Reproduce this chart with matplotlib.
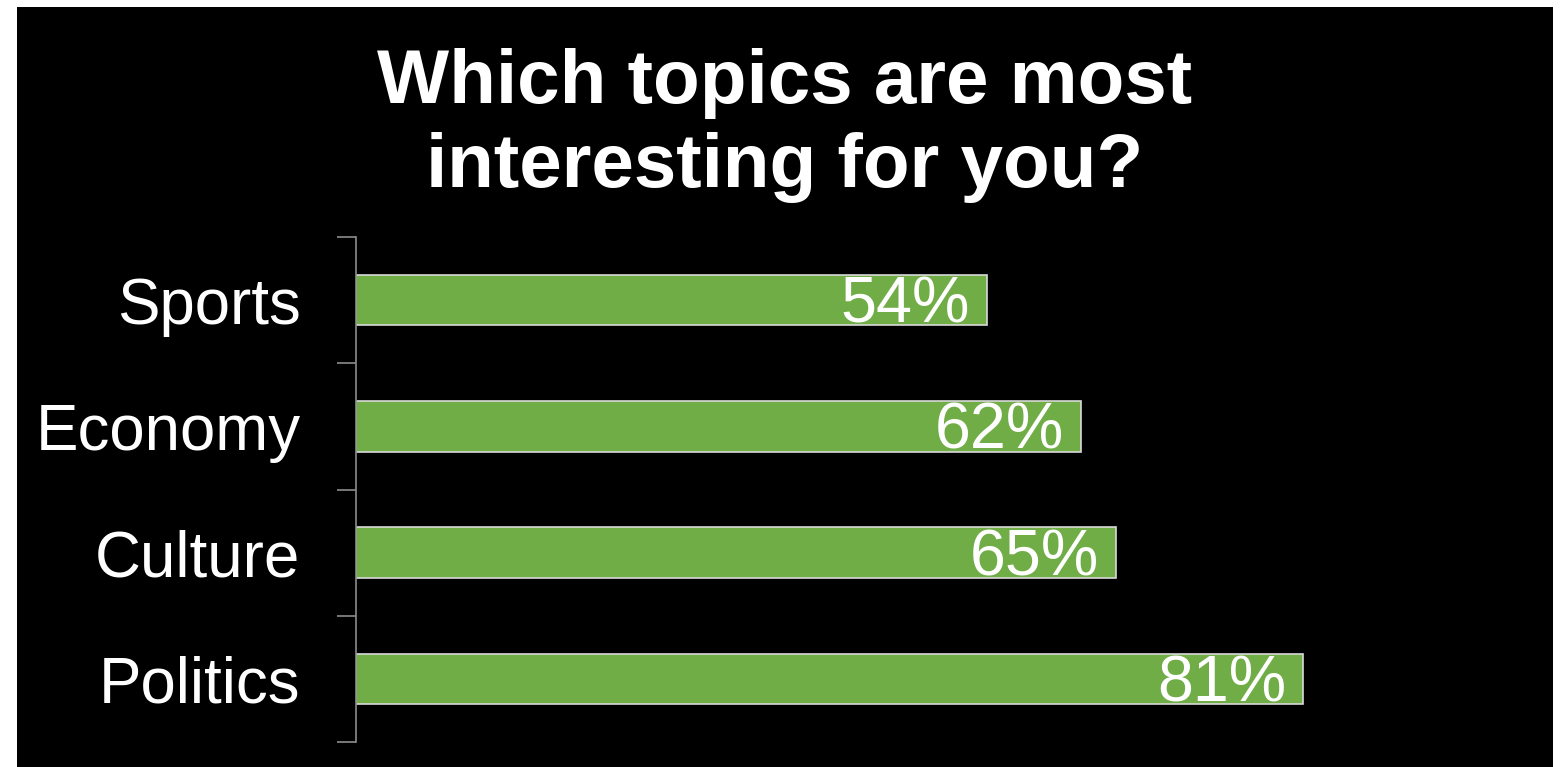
import matplotlib.pyplot as plt
from matplotlib.patches import Rectangle

plt.rcParams["font.family"] = ["Liberation Sans", "DejaVu Sans"]

# chart data
topics = ["Sports", "Economy", "Culture", "Politics"]
shares = [0.54, 0.62, 0.65, 0.81]
value_labels = ["54%", "62%", "65%", "81%"]

title = "Which topics are most\ninteresting for you?"

bar_color = "#70AD47"
bar_edge = "#D9D9D9"
axis_gray = "#8C8C8C"

W, H = 1561, 767
fig = plt.figure(figsize=(W / 100, H / 100), dpi=100, facecolor="white")

# black slide background, with white margin on left/top/right
fig.patches.append(
    Rectangle(
        (17 / W, 0),
        (1553 - 17) / W,
        (767 - 7) / H,
        transform=fig.transFigure,
        facecolor="black",
        edgecolor="none",
        zorder=-5,
    )
)

ax: plt.Axes = fig.add_axes(
    [356 / W, (767 - 742) / H, (1525 - 356) / W, (742 - 237) / H]
)
ax.set_zorder(2)
ax.set_facecolor("none")

positions = list(range(len(topics)))
ax.barh(
    positions,
    shares,
    height=0.4,
    color=bar_color,
    edgecolor=bar_edge,
    linewidth=1.2,
)

for pos, val, lab in zip(positions, shares, value_labels):
    ax.annotate(
        lab,
        xy=(val, pos),
        xytext=(-17 * 0.72, -22.5 * 0.72),
        textcoords="offset points",
        ha="right",
        va="baseline",
        color="white",
        fontsize=46.5,
    )

ax.set_xlim(0, 1)
ax.set_ylim(len(topics) - 0.5, -0.5)

# major ticks on category borders, labels on minor ticks
ax.set_yticks([p - 0.5 for p in positions] + [len(topics) - 0.5])
ax.set_yticklabels([])
ax.set_yticks(positions, minor=True)
ax.set_yticklabels(topics, minor=True, fontsize=45.8, color="white")
ax.tick_params(axis="y", which="major", length=13.7, width=1.2, color=axis_gray)
ax.tick_params(axis="y", which="minor", length=0, pad=40)
ax.set_xticks([])

for side in ["top", "right", "bottom"]:
    ax.spines[side].set_visible(False)
ax.spines["left"].set_color(axis_gray)
ax.spines["left"].set_linewidth(1.2)

fig.text(
    785 / W,
    1 - 187 / H,
    title,
    ha="center",
    va="baseline",
    color="white",
    fontsize=55,
    fontweight="bold",
    linespacing=1.24,
    zorder=3,
)

fig.savefig("out.png", dpi=100, facecolor="white")
